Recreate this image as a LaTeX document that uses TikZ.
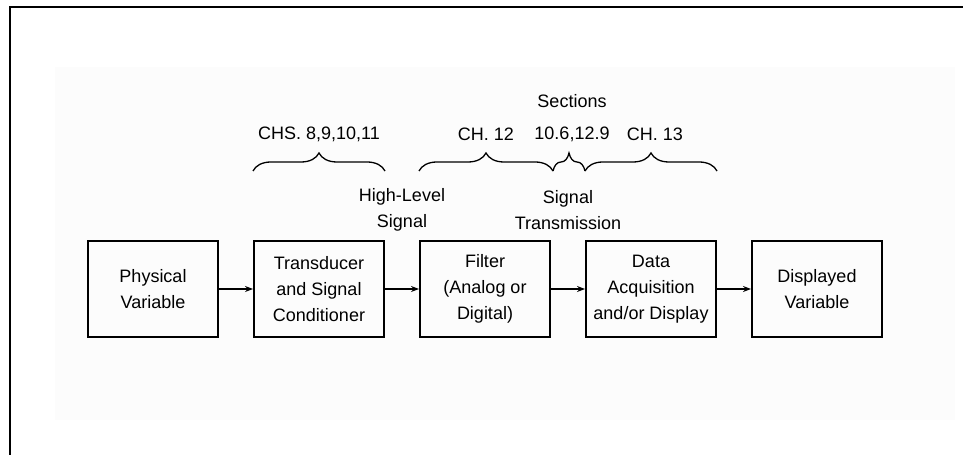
\documentclass[tikz,border=0pt]{standalone}
\usepackage{fontspec}
\setmainfont{Liberation Sans}
\usetikzlibrary{positioning,arrows.meta,calc,decorations.pathreplacing}

\begin{document}
\begin{tikzpicture}[x=1pt, y=1pt, font=\fontsize{18}{26}\selectfont,
    blk/.style={draw, line width=2pt, minimum width=130pt, minimum height=96pt, align=center, inner sep=2pt},
    lbl/.style={align=center, inner sep=1pt},
    brc/.style={decorate, decoration={brace, amplitude=18pt}, line width=1.3pt},
    flow/.style={-{Stealth[length=8pt, width=6pt]}, line width=1.3pt}]
  \useasboundingbox (0,0) rectangle (963,455);
  % faint scan background and frame
  \fill[black!1] (55,35) rectangle (955,388);
  \draw[line width=2.5pt] (963,448) -- (10,448) -- (10,0);
  % blocks
  \node[blk] (pv) at (153,166) {Physical\\Variable};
  \node[blk, right=34pt of pv] (td) {Transducer\\and Signal\\Conditioner};
  \node[blk, right=34pt of td] (fl) {Filter\\(Analog or\\Digital)};
  \node[blk, right=34pt of fl] (da) {Data\\Acquisition\\and/or Display};
  \node[blk, right=34pt of da] (dv) {Displayed\\Variable};
  \draw[flow] (pv) -- (td);
  \draw[flow] (td) -- (fl);
  \draw[flow] (fl) -- (da);
  \draw[flow] (da) -- (dv);
  % signal labels
  \node[lbl] (hls) at ($(td.north east)!.5!(fl.north west)+(0,30)$) {High-Level\\Signal};
  \node[lbl] (stx) at ($(fl.north east)!.5!(da.north west)+(0,30)$) {Signal\\Transmission};
  % braces
  \coordinate (b1) at ($(td.north west)+(0,69)$);
  \coordinate (b2) at ($(td.north east)+(0,69)$);
  \coordinate (b3) at ($(fl.north west)+(0,69)$);
  \coordinate (b4) at ($(fl.north east)+(2,69)$);
  \coordinate (b5) at ($(da.north west)+(0,69)$);
  \coordinate (b6) at ($(da.north east)+(0,69)$);
  \draw[brc] (b1) -- (b2) node[lbl, midway, yshift=37pt] (chs) {CHS. 8,9,10,11};
  \draw[brc] (b3) -- (b4) node[lbl, midway, yshift=37pt] (ch12) {CH. 12};
  \draw[brc] (b4) -- (b5) node[lbl, midway, xshift=3pt, yshift=53pt] (sec) {Sections\\[6pt]10.6,12.9};
  \draw[brc] (b5) -- (b6) node[lbl, midway, xshift=4pt, yshift=37pt] (ch13) {CH. 13};
\end{tikzpicture}
\end{document}
